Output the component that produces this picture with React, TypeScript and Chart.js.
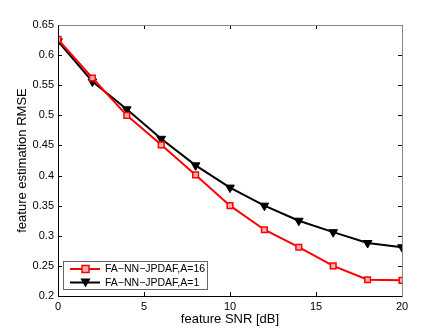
import React, { useEffect, useRef } from "react";
import { Chart, registerables } from "chart.js";

Chart.register(...registerables);

const snr = [0, 2, 4, 6, 8, 10, 12, 14, 16, 18, 20];
const rmseA16 = [0.626, 0.562, 0.5, 0.451, 0.401, 0.35, 0.31, 0.281, 0.25, 0.227, 0.226];
const rmseA1 = [0.623, 0.556, 0.51, 0.461, 0.417, 0.38, 0.35, 0.325, 0.306, 0.288, 0.281];
const seriesLabels = ["FA\u2212NN\u2212JPDAF,A=16", "FA\u2212NN\u2212JPDAF,A=1"];
const xTicks = [0, 5, 10, 15, 20];
const yTicks = [0.2, 0.25, 0.3, 0.35, 0.4, 0.45, 0.5, 0.55, 0.6, 0.65];

const FONT = "'Liberation Sans', Arial, Helvetica, sans-serif";

const boxPlugin = {
  id: "matlabBox",
  afterDatasetsDraw(chart: any) {
    const { ctx, chartArea: a, scales } = chart;
    ctx.save();
    ctx.strokeStyle = "#000";
    ctx.lineWidth = 1;
    const tl = 4;
    ctx.beginPath();
    xTicks.forEach((v) => {
      const x = Math.round(scales.x.getPixelForValue(v)) + 0.5;
      ctx.moveTo(x, a.bottom);
      ctx.lineTo(x, a.bottom - tl);
      ctx.moveTo(x, a.top);
      ctx.lineTo(x, a.top + tl);
    });
    yTicks.forEach((v) => {
      const y = Math.round(scales.y.getPixelForValue(v)) + 0.5;
      ctx.moveTo(a.left, y);
      ctx.lineTo(a.left + tl, y);
      ctx.moveTo(a.right, y);
      ctx.lineTo(a.right - tl, y);
    });
    ctx.stroke();
    const L = Math.round(a.left) + 0.5;
    const T = Math.round(a.top) + 0.5;
    const R = Math.round(a.right) + 0.5;
    const B = Math.round(a.bottom) + 0.5;
    ctx.strokeStyle = "#888";
    ctx.beginPath();
    ctx.moveTo(L, T);
    ctx.lineTo(R, T);
    ctx.lineTo(R, B);
    ctx.stroke();
    ctx.strokeStyle = "#000";
    ctx.beginPath();
    ctx.moveTo(L, T);
    ctx.lineTo(L, B);
    ctx.lineTo(R, B);
    ctx.stroke();
    ctx.restore();
  },
  afterDraw(chart: any) {
    const { ctx, chartArea: a } = chart;
    ctx.save();
    const bx = Math.round(a.left) + 5.5;
    const by = Math.round(a.bottom) - 34.5;
    const bw = 144;
    const bh = 28;
    ctx.fillStyle = "#fff";
    ctx.fillRect(bx, by, bw, bh);
    ctx.strokeStyle = "#666";
    ctx.lineWidth = 1;
    ctx.strokeRect(bx, by, bw, bh);
    const rows = [by + 7.5, by + 21];
    ctx.font = `10.5px ${FONT}`;
    ctx.textBaseline = "middle";
    ctx.textAlign = "left";
    chart.data.datasets.forEach((ds: any, i: number) => {
      const y = rows[i];
      ctx.strokeStyle = ds.borderColor;
      ctx.lineWidth = 2;
      ctx.beginPath();
      ctx.moveTo(bx + 6.5, y);
      ctx.lineTo(bx + 36.5, y);
      ctx.stroke();
      const cx = bx + 22;
      if (i === 0) {
        ctx.fillStyle = "#ffb0b0";
        ctx.fillRect(cx - 3.5, y - 3.5, 7, 7);
        ctx.lineWidth = 1.5;
        ctx.strokeStyle = ds.borderColor;
        ctx.strokeRect(cx - 3.5, y - 3.5, 7, 7);
      } else {
        ctx.fillStyle = "#000";
        ctx.beginPath();
        ctx.moveTo(cx - 5, y - 4);
        ctx.lineTo(cx + 5, y - 4);
        ctx.lineTo(cx, y + 5);
        ctx.closePath();
        ctx.fill();
      }
      ctx.fillStyle = "#000";
      ctx.fillText(ds.label, bx + 41.5, y + 0.5);
    });
    ctx.restore();
  },
};

export default function App() {
  const ref = useRef<HTMLCanvasElement | null>(null);
  useEffect(() => {
    document.body.style.margin = "0";
    const canvas = ref.current!;
    const chart = new Chart(canvas, {
      type: "line",
      data: {
        datasets: [
          {
            label: seriesLabels[0],
            data: snr.map((x, i) => ({ x, y: rmseA16[i] })),
            borderColor: "#ff0000",
            borderWidth: 2,
            pointStyle: "rect",
            pointRadius: 4,
            pointBorderWidth: 1.5,
            pointBackgroundColor: "#ffb0b0",
            pointBorderColor: "#ff0000",
            tension: 0,
          },
          {
            label: seriesLabels[1],
            data: snr.map((x, i) => ({ x, y: rmseA1[i] })),
            borderColor: "#000000",
            borderWidth: 2,
            pointStyle: "triangle",
            rotation: 180,
            pointRadius: 5,
            pointBorderWidth: 1,
            pointBackgroundColor: "#000",
            pointBorderColor: "#000",
            tension: 0,
          },
        ],
      },
      options: {
        animation: false,
        responsive: false,
        maintainAspectRatio: false,
        layout: { padding: { top: 25, right: 41, left: 0, bottom: 0 } },
        plugins: { legend: { display: false }, tooltip: { enabled: false } },
        scales: {
          x: {
            type: "linear",
            min: 0,
            max: 20,
            afterBuildTicks: (s: any) => {
              s.ticks = xTicks.map((v) => ({ value: v }));
            },
            afterFit: (s: any) => {
              s.height = 37;
            },
            grid: { display: false, drawTicks: false, tickLength: 0 },
            border: { display: false },
            ticks: { color: "#000", font: { family: FONT, size: 11 }, padding: 4, maxRotation: 0 },
            title: {
              display: true,
              text: "feature SNR [dB]",
              color: "#000",
              font: { family: FONT, size: 13 },
              padding: { top: 0, bottom: 6 },
            },
          },
          y: {
            type: "linear",
            min: 0.2,
            max: 0.65,
            afterBuildTicks: (s: any) => {
              s.ticks = yTicks.map((v) => ({ value: v }));
            },
            afterFit: (s: any) => {
              s.width = 58;
            },
            grid: { display: false, drawTicks: false, tickLength: 0 },
            border: { display: false },
            ticks: {
              color: "#000",
              font: { family: FONT, size: 11 },
              padding: 4,
              callback: (v: any) => String(Number(Number(v).toFixed(2))),
            },
            title: {
              display: true,
              text: "feature estimation RMSE",
              color: "#000",
              font: { family: FONT, size: 13 },
              padding: { top: 15, bottom: 0 },
            },
          },
        },
      },
      plugins: [boxPlugin],
    });
    return () => chart.destroy();
  }, []);
  return (
    <div style={{ width: 443, height: 333, background: "#fff" }}>
      <canvas ref={ref} width={443} height={333} style={{ display: "block", width: 443, height: 333 }} />
    </div>
  );
}
